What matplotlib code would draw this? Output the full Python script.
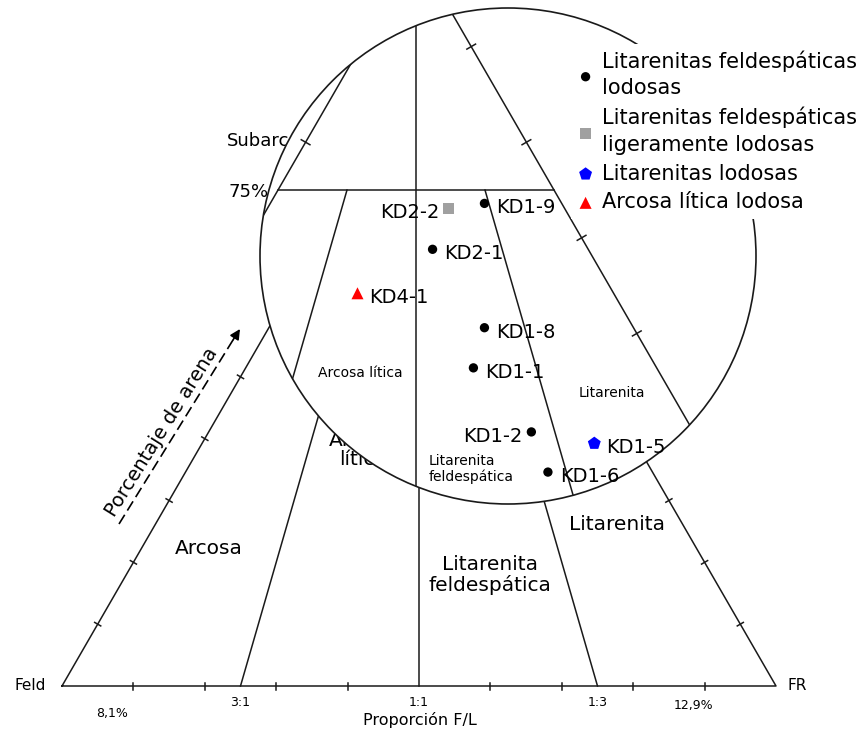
import numpy as np
import matplotlib
matplotlib.use('Agg')
import matplotlib.pyplot as plt
from matplotlib.patches import Circle

# ---------------- data ----------------
samples = ['KD2-2', 'KD1-9', 'KD2-1', 'KD4-1', 'KD1-8', 'KD1-1', 'KD1-2', 'KD1-6', 'KD1-5']
quartz = [73.1, 73.6, 68.8, 64.2, 60.6, 56.4, 49.7, 45.5, 48.5]
feldspar = [10.5, 7.0, 14.1, 23.2, 13.5, 16.6, 14.7, 15.3, 9.6]
lithics = [16.4, 19.4, 17.1, 12.6, 25.9, 27.0, 35.6, 39.2, 41.9]
sample_group = [1, 0, 0, 3, 0, 0, 0, 0, 2]
label_side = ['left', 'right', 'right', 'right', 'right', 'right', 'left', 'right', 'right']

group_names = ['Litarenitas feldespáticas\nlodosas',
               'Litarenitas feldespáticas\nligeramente lodosas',
               'Litarenitas lodosas',
               'Arcosa lítica lodosa']
group_markers = ['o', 's', 'p', '^']
group_colors = ['black', '#a0a0a0', '#0000ff', '#ff0000']
group_sizes = [45, 60, 95, 75]

ratio_lines = [0.25, 0.5, 0.75]          # L/(F+L)
ratio_labels = ['3:1', '1:1', '1:3']
quartz_line = 0.75
edge_ticks = [0.1, 0.2, 0.3, 0.4, 0.5, 0.6, 0.7, 0.8, 0.9]
base_ticks = [0.1, 0.2, 0.3, 0.4, 0.6, 0.7, 0.8, 0.9]

S = np.sqrt(3) / 2
LC = '#1a1a1a'


def tern(q, f, l):
    q = np.asarray(q, float); f = np.asarray(f, float); l = np.asarray(l, float)
    tot = q + f + l
    return 0.5 * q / tot + l / tot, S * q / tot


# layout helpers (pixel position -> axes units)
def pm(px, py):
    return ((px - 62) / 714, (686 - py) / 714)


def pz(px, py):
    return ((px + 136) / 1104, (907.1 - py) / 1104)


fig = plt.figure(figsize=(8.64, 7.33), dpi=100)

# ---------------- main triangle ----------------
ax = fig.add_axes([0, 0, 1, 1])
ax.set_xlim(-62 / 714, (864 - 62) / 714)
ax.set_ylim(-(733 - 686) / 714, 686 / 714)
ax.axis('off')


def draw_frame(a, half, lw, clip=None, base=True):
    arts = []
    arts += a.plot([0, 0.5, 1] if not base else [0, 1, 0.5, 0],
                   [0, S, 0] if not base else [0, 0, S, 0], color=LC, lw=lw)
    for r in ratio_lines:
        qt = 1.0 if r == 0.5 else quartz_line
        arts += a.plot([r, 0.5 * qt + (1 - qt) * r], [0, S * qt], color=LC, lw=lw)
    q = quartz_line
    arts += a.plot([0.5 * q, 0.5 * q + (1 - q)], [S * q, S * q], color=LC, lw=lw)
    for t in edge_ticks:
        x, y = 0.5 * t, S * t
        arts += a.plot([x - S * half, x + S * half], [y + 0.5 * half, y - 0.5 * half], color=LC, lw=lw)
        x, y = 1 - 0.5 * t, S * t
        arts += a.plot([x - S * half, x + S * half], [y - 0.5 * half, y + 0.5 * half], color=LC, lw=lw)
    if base:
        for t in base_ticks:
            arts += a.plot([t, t], [-half, half], color=LC, lw=lw)
    if clip is not None:
        for art in arts:
            art.set_clip_path(clip)
    return arts


draw_frame(ax, 3.5 / 714, 1.1)

ax.text(*pm(30, 686), 'Feld', ha='center', va='center', fontsize=11)
ax.text(*pm(797, 686), 'FR', ha='center', va='center', fontsize=11)
for r, lab in zip(ratio_lines, ratio_labels):
    ax.text(r, pm(0, 702)[1], lab, ha='center', va='center', fontsize=9)
ax.text(*pm(112, 714), '8,1%', ha='center', va='center', fontsize=9)
ax.text(*pm(693, 706), '12,9%', ha='center', va='center', fontsize=9)
ax.text(*pm(420, 720), 'Proporción F/L', ha='center', va='center', fontsize=11.5)

ax.text(*pm(209, 548), 'Arcosa', ha='center', va='center', fontsize=14.5)
ax.text(*pm(363, 450), 'Arcosa\nlítica', ha='center', va='center', fontsize=14.5, linespacing=1.05)
ax.text(*pm(490, 575), 'Litarenita\nfeldespática', ha='center', va='center', fontsize=14.5, linespacing=1.05)
ax.text(*pm(617, 525), 'Litarenita', ha='center', va='center', fontsize=14.5)
ax.text(*pm(227, 141), 'Subarcosa', ha='left', va='center', fontsize=13)
ax.text(*pm(228, 192), '75%', ha='left', va='center', fontsize=13)

ax.text(*pm(162, 432), 'Porcentaje de arena', rotation=58, rotation_mode='anchor',
        ha='center', va='center', fontsize=14)
p0, p1, p2 = pm(119, 524), pm(233, 340), pm(240, 329)
ax.plot([p0[0], p1[0]], [p0[1], p1[1]], color='k', lw=1.2, linestyle=(0, (6.5, 3)))
ax.annotate('', xy=p2, xytext=p1,
            arrowprops=dict(arrowstyle='-|>', color='k', lw=1.2, mutation_scale=15,
                            shrinkA=0, shrinkB=0))

# ---------------- magnified view ----------------
ax2 = fig.add_axes([0, 0, 1, 1])
ax2.set_xlim(136 / 1104, 1000 / 1104)
ax2.set_ylim((907.1 - 733) / 1104, 907.1 / 1104)
ax2.axis('off')
ax2.patch.set_visible(False)

circ = Circle(pz(508, 256), 248 / 1104, facecolor='white', edgecolor=LC, lw=1.2, zorder=1)
ax2.add_patch(circ)
draw_frame(ax2, 5 / 1104, 1.1, clip=circ, base=False)

ax2.text(*pz(360, 373), 'Arcosa lítica', ha='center', va='center', fontsize=10)
ax2.text(*pz(429, 469), 'Litarenita\nfeldespática', ha='left', va='center', fontsize=10, linespacing=1.1)
ax2.text(*pz(612, 393), 'Litarenita', ha='center', va='center', fontsize=10)

u, v = tern(quartz, feldspar, lithics)
grp = np.array(sample_group)
handles = []
for g, (name, mk, col, sz) in enumerate(zip(group_names, group_markers, group_colors, group_sizes)):
    idx = np.where(grp == g)[0]
    h = ax2.scatter(u[idx], v[idx], marker=mk, c=col, s=sz, edgecolors='none',
                    zorder=4, label=name)
    handles.append(h)

for i, name in enumerate(samples):
    if label_side[i] == 'right':
        ax2.annotate(name, (u[i], v[i]), xytext=(12, -10), textcoords='offset pixels',
                     ha='left', va='baseline', fontsize=14, zorder=5)
    else:
        ax2.annotate(name, (u[i], v[i]), xytext=(-9, -10), textcoords='offset pixels',
                     ha='right', va='baseline', fontsize=14, zorder=5)

leg = ax2.legend(handles=handles, loc='upper left',
                 bbox_to_anchor=(571 / 864, 1 - 44 / 733), bbox_transform=fig.transFigure,
                 borderaxespad=0, borderpad=0.3, fontsize=15, handlelength=0.8,
                 handletextpad=0.4, labelspacing=0.42, frameon=True, fancybox=False,
                 edgecolor='none', facecolor='white', framealpha=1, scatterpoints=1)
for t in leg.get_texts():
    t.set_linespacing(1.4)
leg.set_zorder(10)

fig.savefig('out.png', dpi=100)
